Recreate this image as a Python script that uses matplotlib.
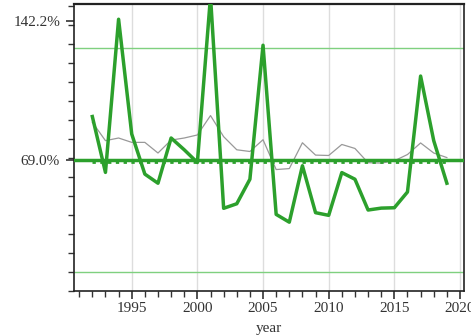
import numpy as np
import matplotlib
matplotlib.use("Agg")
import matplotlib.pyplot as plt
from matplotlib.ticker import FixedLocator, MultipleLocator

plt.rcParams['font.family'] = ['Liberation Serif', 'DejaVu Serif']

years = list(range(1992, 2020))
# thick green series (percent)
main_vals = [91.8, 62.4, 143.0, 82.6, 61.5, 56.7, 80.5, 74.3, 67.6, 155.0,
             43.5, 45.9, 58.8, 129.3, 40.3, 36.2, 65.9, 41.2, 39.8, 62.3,
             58.8, 42.6, 43.6, 43.8, 52.1, 113.1, 79.1, 56.7]
# thin grey series (percent)
ref_vals = [88.8, 79.1, 80.5, 78.2, 78.2, 72.6, 79.4, 80.5, 82.1, 92.3,
            81.2, 74.3, 73.4, 79.6, 63.9, 64.4, 78.0, 71.5, 71.3, 77.1,
            75.0, 67.5, 67.3, 68.5, 71.8, 77.9, 72.6, 70.2]

mean_val = 69.0
dotted_val = 67.9
upper_band = 127.9
lower_band = 10.1
ytick_vals = [69.0, 142.2]
ytick_labels = ["69.0%", "142.2%"]

fig = plt.figure(figsize=(4.71, 3.36), dpi=100)
ax = fig.add_axes([0.157, 0.134, 0.828, 0.854])

green = "#2ca02c"
ax.axhline(upper_band, color="#7fd07f", lw=1.0, zorder=2)
ax.axhline(lower_band, color="#7fd07f", lw=1.0, zorder=2)
ax.plot(years, ref_vals, color="#999999", lw=0.9, zorder=3)
ax.plot([years[0], years[-1]], [dotted_val, dotted_val], color=green, lw=2.0,
        ls=(0, (1.2, 1.6)), zorder=3)
ax.axhline(mean_val, color=green, lw=2.5, zorder=4)
ax.plot(years, main_vals, color=green, lw=2.5, zorder=5)

ax.set_xlim(1990.6, 2020.3)
ax.set_ylim(0, 151)
ax.xaxis.set_major_locator(FixedLocator([1995, 2000, 2005, 2010, 2015, 2020]))
ax.xaxis.set_minor_locator(MultipleLocator(1))
ax.yaxis.set_major_locator(FixedLocator(ytick_vals))
ax.set_yticklabels(ytick_labels)
ax.yaxis.set_minor_locator(MultipleLocator(10))
ax.grid(axis="x", which="major", color="#dddddd", lw=1.0, zorder=0)

ax.tick_params(which="both", direction="out", colors="#333333", labelsize=11,
               labelcolor="#333333")
ax.tick_params(which="major", length=6, width=1.2)
ax.tick_params(which="minor", length=4, width=1.0)
ax.tick_params(axis="x", pad=2)
ax.tick_params(axis="y", pad=4)
for s in ax.spines.values():
    s.set_color("#222222")
    s.set_linewidth(1.2)
ax.spines["top"].set_linewidth(1.6)

ax.set_xlabel("year", fontsize=11, color="#333333", labelpad=5)

fig.savefig("out.png", dpi=100)
